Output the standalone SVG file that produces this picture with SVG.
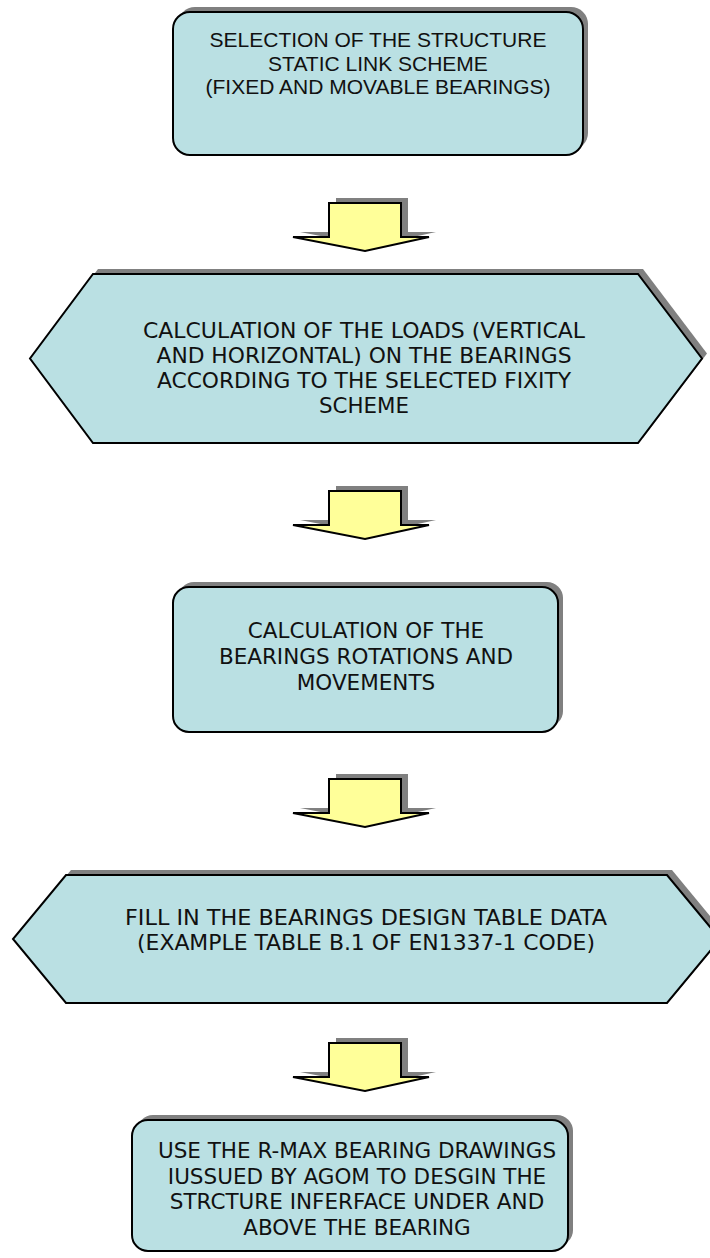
<svg xmlns="http://www.w3.org/2000/svg" width="710" height="1258" viewBox="0 0 710 1258">
<defs>
<style>
.sh{fill:#808080;stroke:none}
.nd{fill:#BAE0E3;stroke:#000;stroke-width:2}
.ar{fill:#FFFF99;stroke:#000;stroke-width:2;stroke-linejoin:miter}
.t1{font-family:"Liberation Sans",Arial,sans-serif;font-size:21px;fill:#111;text-anchor:middle}
.t2{font-family:"DejaVu Sans Condensed","DejaVu Sans",sans-serif;font-stretch:condensed;font-size:22px;fill:#111;text-anchor:middle}
.t3{font-family:"DejaVu Sans",Verdana,sans-serif;font-size:21.5px;fill:#111;text-anchor:middle}
</style>
<polygon id="arrowShape" points="329,0 401,0 401,34 429,34 365,48 293,34 329,34"/>
</defs>
<rect width="710" height="1258" fill="#fff"/>
<g id="connectors">
<g transform="translate(0,203)"><use href="#arrowShape" class="sh" transform="translate(7,-5)"/><use href="#arrowShape" class="ar"/></g>
<g transform="translate(0,491)"><use href="#arrowShape" class="sh" transform="translate(7,-5)"/><use href="#arrowShape" class="ar"/></g>
<g transform="translate(0,779)"><use href="#arrowShape" class="sh" transform="translate(7,-5)"/><use href="#arrowShape" class="ar"/></g>
<g transform="translate(0,1043)"><use href="#arrowShape" class="sh" transform="translate(7,-5)"/><use href="#arrowShape" class="ar"/></g>
</g>
<g id="node1">
<rect class="sh" x="178" y="7" width="410" height="143" rx="17"/>
<rect class="nd" x="173" y="12" width="410" height="143" rx="17"/>
<text class="t1" x="378" y="47">SELECTION OF THE STRUCTURE</text>
<text class="t1" x="378" y="70.5">STATIC LINK SCHEME</text>
<text class="t1" x="378" y="94">(FIXED AND MOVABLE BEARINGS)</text>
</g>
<g id="node2">
<polygon class="sh" points="98,269 643,269 707,353.5 643,438 98,438 35,353.5"/>
<polygon class="nd" points="93,274 638,274 702,358.5 638,443 93,443 30,358.5"/>
<text class="t2" x="364" y="338" textLength="442" lengthAdjust="spacingAndGlyphs">CALCULATION OF THE LOADS (VERTICAL</text>
<text class="t2" x="364" y="363" textLength="415" lengthAdjust="spacingAndGlyphs">AND HORIZONTAL) ON THE BEARINGS</text>
<text class="t2" x="364" y="388" textLength="414" lengthAdjust="spacingAndGlyphs">ACCORDING TO THE SELECTED FIXITY</text>
<text class="t2" x="364" y="413" textLength="90" lengthAdjust="spacingAndGlyphs">SCHEME</text>
</g>
<g id="node3">
<rect class="sh" x="178" y="582" width="385" height="145" rx="16"/>
<rect class="nd" x="173" y="587" width="385" height="145" rx="16"/>
<text class="t3" x="366" y="638">CALCULATION OF THE</text>
<text class="t3" x="366" y="664">BEARINGS ROTATIONS AND</text>
<text class="t3" x="366" y="690">MOVEMENTS</text>
</g>
<g id="node4">
<polygon class="sh" points="71,870 672,870 725,934 672,998 71,998 18,934"/>
<polygon class="nd" points="66,875 667,875 720,939 667,1003 66,1003 13,939"/>
<text class="t2" x="366" y="925" textLength="482" lengthAdjust="spacingAndGlyphs">FILL IN THE BEARINGS DESIGN TABLE DATA</text>
<text class="t2" x="366" y="950" textLength="458" lengthAdjust="spacingAndGlyphs">(EXAMPLE TABLE B.1 OF EN1337-1 CODE)</text>
</g>
<g id="node5">
<rect class="sh" x="137" y="1115" width="436" height="131" rx="16"/>
<rect class="nd" x="132" y="1120" width="436" height="131" rx="16"/>
<text class="t3" x="357" y="1158">USE THE R-MAX BEARING DRAWINGS</text>
<text class="t3" x="357" y="1183.5">IUSSUED BY AGOM TO DESGIN THE</text>
<text class="t3" x="357" y="1209">STRCTURE INFERFACE UNDER AND</text>
<text class="t3" x="357" y="1234.5">ABOVE THE BEARING</text>
</g>
</svg>
